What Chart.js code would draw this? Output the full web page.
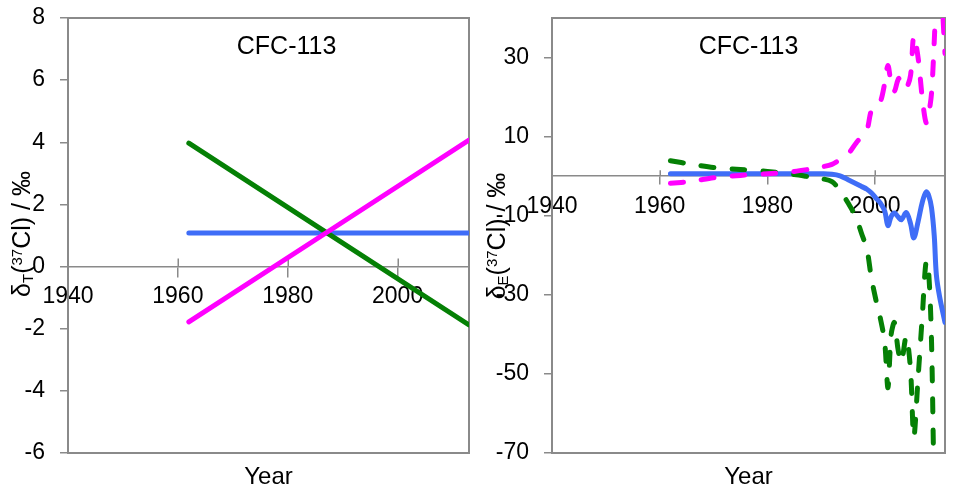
<!DOCTYPE html>
<html>
<head>
<meta charset="utf-8">
<title>CFC-113 chlorine isotope ratios</title>
<script src="https://cdn.jsdelivr.net/npm/chart.js@4/dist/chart.umd.min.js"></script>
<style>
  html, body { margin: 0; padding: 0; background: #fff; }
  #wrap { position: relative; width: 953px; height: 495px; overflow: hidden; }
  canvas { position: absolute; top: 0; }
  #panelT { left: 0; }
  #panelE { left: 478px; }
</style>
</head>
<body>
<div id="wrap">
  <canvas id="panelT" width="478" height="495"></canvas>
  <canvas id="panelE" width="475" height="495"></canvas>
</div>
<script>
// ---- shared ticks and labels ----
const X_TICKS = [1940, 1960, 1980, 2000];
const Y_TICKS_T = [-6, -4, -2, 0, 2, 4, 6, 8];
const Y_TICKS_E = [-70, -50, -30, -10, 10, 30];
const PANEL_TITLE = 'CFC-113';
const X_TITLE = 'Year';

// ---- left panel: δT(37Cl) ----
const YEARS_T = [1962, 2013];
const T_BLUE = [1.08, 1.08];
const T_GREEN = [3.97, -1.88];
const T_MAGENTA = [-1.78, 4.07];

// ---- right panel: δE(37Cl) ----
const YEARS_E = [1962, 1966, 1970, 1975, 1980, 1985, 1988, 1990, 1992, 1993.5,
                 1995, 1996.5, 1997.5, 1998.5, 1999.3, 2000.2, 2001, 2001.8, 2002.4, 2003,
                 2003.6, 2004.3, 2004.9, 2005.8, 2006.6, 2007.2, 2008, 2008.8, 2009.5, 2010,
                 2010.5, 2011, 2011.4, 2012, 2013];
const E_BLUE = [0.6, 0.6, 0.6, 0.6, 0.6, 0.6, 0.6, 0.6, 0.5, 0.1,
                -0.9, -1.9, -2.6, -3.3, -4.2, -5.6, -6.8, -8.8, -12.5, -10.2,
                -9.3, -10.3, -11.0, -9.2, -12.0, -15.6, -11.5, -6.5, -4.0, -5.0,
                -8.0, -15.0, -25.0, -30.5, -37.0];
const E_GREEN = [3.9, 3.0, 2.2, 1.7, 1.2, 0.4, -0.2, -0.6, -1.4, -3.6,
                 -6.8, -10.5, -14.5, -18.5, -25.5, -31.5, -36.0, -42.0, -53.5, -40.0,
                 -37.0, -44.0, -47.0, -40.5, -49.0, -66.0, -51.0, -35.0, -21.5, -25.0,
                 -42.0, -80.0, -95.0, -110.0, -104.0];
const E_MAGENTA = [-1.8, -1.3, -0.4, 0.2, 0.6, 1.2, 1.8, 2.3, 3.0, 4.2,
                   5.6, 8.4, 10.0, 11.6, 16.5, 17.6, 18.8, 23.5, 28.0, 23.5,
                   21.5, 24.5, 25.0, 22.4, 25.5, 35.5, 30.0, 19.5, 13.5, 16.0,
                   21.0, 34.0, 46.0, 52.0, 31.0];

// ---- styling ----
const FONT = '"Liberation Sans", Arial, Helvetica, sans-serif';
const GRAY = '#8a8a8a';
const BLUE = '#3f6df7';
const GREEN = '#058005';
const MAGENTA = '#ff00ff';

Chart.defaults.font.family = FONT;
Chart.defaults.color = '#000';

const toPoints = (xs, ys) => xs.map((x, i) => ({ x, y: ys[i] }));
const fixedTicks = list => scale => { scale.ticks = list.map(v => ({ value: v })); };

// Frame, crossing tick marks, the in-plot title and the rich y-axis label
const panelDecor = {
  id: 'panelDecor',
  beforeDatasetsDraw(chart, args, o) {
    const { ctx, chartArea: a, scales } = chart;
    ctx.save();
    ctx.strokeStyle = GRAY;
    ctx.lineWidth = 2;
    ctx.strokeRect(a.left, a.top, a.right - a.left, a.bottom - a.top);
    const y0 = scales.y.getPixelForValue(0);
    ctx.lineWidth = 1.5;
    ctx.beginPath();
    scales.x.ticks.forEach(t => {
      const px = Math.round(scales.x.getPixelForValue(t.value)) + 0.25;
      ctx.moveTo(px, y0);
      ctx.lineTo(px, y0 - o.tickUp);
    });
    ctx.stroke();
    ctx.restore();
  },
  afterDatasetsDraw(chart, args, o) {
    const { ctx, chartArea: a } = chart;
    ctx.save();
    ctx.fillStyle = '#000';
    ctx.font = '25px ' + FONT;
    ctx.textAlign = 'center';
    ctx.textBaseline = 'middle';
    ctx.fillText(o.title, a.left + o.titleFx * (a.right - a.left), a.top + o.titleDy);

    // rotated axis label with sub/superscripts
    const parts = o.yLabel;
    const fontFor = p => ((p.sub || p.sup) ? '15px ' : '25px ') + FONT;
    let total = 0;
    parts.forEach(p => { ctx.font = fontFor(p); p.w = ctx.measureText(p.t).width; total += p.w; });
    ctx.translate(o.yLabelX, o.yLabelY);
    ctx.rotate(-Math.PI / 2);
    ctx.textAlign = 'left';
    ctx.textBaseline = 'alphabetic';
    let x = -total / 2;
    parts.forEach(p => {
      ctx.font = fontFor(p);
      const dy = p.sub ? 3 : (p.sup ? -8 : 0);
      ctx.fillText(p.t, x, dy);
      x += p.w;
    });
    ctx.restore();
  }
};

function makePanel(canvasId, cfg) {
  const canvas = document.getElementById(canvasId);
  const W = canvas.width;
  const tickFont = { size: 23, family: FONT };
  return new Chart(canvas, {
    type: 'line',
    data: { datasets: cfg.datasets },
    plugins: [panelDecor],
    options: {
      responsive: false,
      animation: false,
      events: [],
      layout: { padding: { left: 0, top: 18, right: W - cfg.right, bottom: 0 } },
      elements: { point: { radius: 0 } },
      plugins: {
        legend: { display: false },
        tooltip: { enabled: false },
        panelDecor: {
          title: PANEL_TITLE, titleFx: cfg.titleFx, titleDy: 29, tickUp: cfg.tickUp,
          yLabel: cfg.yLabel, yLabelX: cfg.yLabelX, yLabelY: cfg.yLabelY
        }
      },
      scales: {
        x: {
          type: 'linear', min: 1940, max: 2013, position: { y: 0 },
          afterBuildTicks: fixedTicks(X_TICKS),
          ticks: { font: tickFont, color: '#000', padding: cfg.xPad, autoSkip: false, maxRotation: 0,
                   callback: v => String(v) },
          grid: { drawOnChartArea: false, tickLength: cfg.tickDown, color: GRAY, lineWidth: 1.5 },
          border: { display: true, color: GRAY, width: 1.5 }
        },
        xTitle: {
          type: 'linear', axis: 'x', position: 'bottom', min: 1940, max: 2013,
          ticks: { display: false },
          grid: { display: false, drawTicks: false },
          border: { display: false },
          title: { display: true, text: X_TITLE, color: '#000', font: { size: 24, family: FONT },
                   padding: { top: 0, bottom: 3 } },
          afterFit: s => { s.height = 42; }
        },
        y: {
          type: 'linear', position: 'left', min: cfg.yMin, max: cfg.yMax,
          afterBuildTicks: fixedTicks(cfg.yTicks),
          ticks: { font: tickFont, color: '#000', padding: 15, callback: v => String(v) },
          grid: { drawOnChartArea: false, tickLength: 8, color: GRAY, lineWidth: 1.5 },
          border: { display: true, color: GRAY, width: 1.5 },
          afterFit: s => { s.width = cfg.left; s.paddingTop = 0; s.paddingBottom = 0; }
        }
      }
    }
  });
}

const solid = (data, color) => ({
  data, borderColor: color, borderWidth: 5, fill: false, tension: 0.35,
  borderCapStyle: 'round', borderJoinStyle: 'round', pointRadius: 0
});
const dashed = (data, color) => Object.assign(solid(data, color), { borderDash: [13, 18], tension: 0.3 });

makePanel('panelT', {
  left: 68, right: 469, yMin: -6, yMax: 8, yTicks: Y_TICKS_T,
  xPad: 6, tickDown: 10, tickUp: 8, titleFx: 0.545,
  yLabel: [{ t: 'δ' }, { t: 'T', sub: true }, { t: '(' }, { t: '37', sup: true }, { t: 'Cl) / ‰' }],
  yLabelX: 30, yLabelY: 234,
  datasets: [
    solid(toPoints(YEARS_T, T_MAGENTA), MAGENTA),
    solid(toPoints(YEARS_T, T_GREEN), GREEN),
    solid(toPoints(YEARS_T, T_BLUE), BLUE)
  ]
});

makePanel('panelE', {
  left: 74, right: 467, yMin: -70, yMax: 40, yTicks: Y_TICKS_E,
  xPad: 9, tickDown: 8, tickUp: 6, titleFx: 0.5,
  yLabel: [{ t: 'δ' }, { t: 'E', sub: true }, { t: '(' }, { t: '37', sup: true }, { t: 'Cl) / ‰' }],
  yLabelX: 27, yLabelY: 236,
  datasets: [
    dashed(toPoints(YEARS_E, E_MAGENTA), MAGENTA),
    dashed(toPoints(YEARS_E, E_GREEN), GREEN),
    solid(toPoints(YEARS_E, E_BLUE), BLUE)
  ]
});
</script>
</body>
</html>
